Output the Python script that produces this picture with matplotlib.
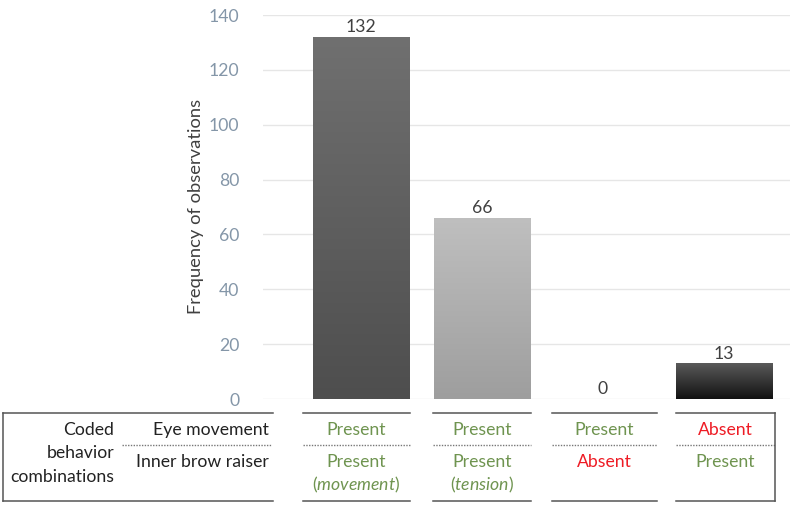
import matplotlib
matplotlib.use("Agg")
import matplotlib.pyplot as plt
import numpy as np
from matplotlib.colors import LinearSegmentedColormap
from matplotlib.lines import Line2D

plt.rcParams['font.family'] = ['Lato', 'DejaVu Sans']
plt.rcParams['mathtext.fontset'] = 'custom'
plt.rcParams['mathtext.rm'] = 'Lato'
plt.rcParams['mathtext.it'] = 'Lato:italic'

# ---- data ----
categories = ["C1", "C2", "C3", "C4"]
values = [132, 66, 0, 13]
yticks = [0, 20, 40, 60, 80, 100, 120, 140]
ylabel = "Frequency of observations"
eye_movement = ["Present", "Present", "Present", "Absent"]
inner_brow = ["Present", "Present", "Absent", "Present"]
inner_brow_note = ["movement", "tension", "", ""]
row_header = ["Coded", "behavior", "combinations"]
row_names = ["Eye movement", "Inner brow raiser"]

# gradient colours (top, bottom)
grads = [("#707070", "#4e4e4e"), ("#bfbfbf", "#9e9e9e"), ("#cccccc", "#cccccc"), ("#5a5a5a", "#111111")]

FS = 12.7
W, H = 792, 505
fig = plt.figure(figsize=(W / 100, H / 100), dpi=100)

def fx(px):
    return px / W

def fy(py):
    return 1 - py / H

ax = fig.add_axes([fx(263), fy(399), (790 - 263) / W, (399 - 15) / H])
x = np.arange(len(categories))
bars = ax.bar(x, values, width=0.8, color="none", edgecolor="none", zorder=3)
for b, (ctop, cbot), v in zip(bars, grads, values):
    if v <= 0:
        continue
    cmap = LinearSegmentedColormap.from_list("g", [cbot, ctop])
    grad = np.linspace(1, 0, 256).reshape(-1, 1)
    im = ax.imshow(grad, cmap=cmap, extent=[b.get_x(), b.get_x() + b.get_width(), 0, v],
                   aspect="auto", zorder=3, vmin=0, vmax=1)
    im.set_clip_path(b)

for xi, v in zip(x, values):
    ax.text(xi, v + 0.6, str(v), ha="center", va="bottom", fontsize=FS, color="#404040")

ax.set_xlim(-0.81, 3.545)
ax.set_ylim(0, 140)
ax.set_yticks(yticks)
ax.set_yticklabels([str(t) for t in yticks], fontsize=FS, color="#8496a8")
ax.tick_params(axis="y", length=0, pad=17)
ax.set_xticks([])
ax.grid(axis="y", color="#e6e6e6", linewidth=1, zorder=0)
ax.set_axisbelow(True)
for s in ax.spines.values():
    s.set_visible(False)
fig.text(fx(196), fy(206), ylabel, rotation=90, ha="center", va="center", fontsize=13.2, color="#404040")

# ---- table below ----
line_c = "#555555"
def hline(x0, x1, y, **kw):
    fig.add_artist(Line2D([fx(x0), fx(x1)], [fy(y), fy(y)], color=kw.get("color", line_c),
                          linewidth=kw.get("lw", 1.1), linestyle=kw.get("ls", "-")))
def vline(x0, y0, y1):
    fig.add_artist(Line2D([fx(x0), fx(x0)], [fy(y0), fy(y1)], color=line_c, linewidth=1.1))

hline(3, 273, 413)
hline(3, 273, 501)
vline(3, 413, 501)
hline(122, 272, 445, ls=(0, (1, 1)), lw=1.0, color="#777777")

col_spans = [(303, 410), (433, 531), (552, 657), (676, 775)]
for (a, b) in col_spans:
    hline(a, b, 413)
    hline(a, b, 501)
    hline(a, b, 445, ls=(0, (1, 1)), lw=1.0, color="#777777")
vline(775, 413, 501)

txt_c = "#222222"
for t, yy in zip(row_header, [430, 453, 477]):
    fig.text(fx(114), fy(yy), t, ha="right", va="center", fontsize=FS, color=txt_c)
fig.text(fx(269), fy(430), row_names[0], ha="right", va="center", fontsize=FS, color=txt_c)
fig.text(fx(269), fy(462), row_names[1], ha="right", va="center", fontsize=FS, color=txt_c)

green = "#6f9450"
red = "#ee1c25"
def col(s):
    return green if s == "Present" else red

for (a, b), e, ib, note in zip(col_spans, eye_movement, inner_brow, inner_brow_note):
    cx = fx((a + b) / 2)
    fig.text(cx, fy(430), e, ha="center", va="center", fontsize=FS, color=col(e))
    fig.text(cx, fy(462), ib, ha="center", va="center", fontsize=FS, color=col(ib))
    if note:
        fig.text(cx, fy(485), r"$\mathrm{(}\mathit{" + note + r"}\mathrm{)}$", ha="center", va="center",
                 fontsize=FS, color=col(ib))

fig.savefig("out.png", dpi=100)
